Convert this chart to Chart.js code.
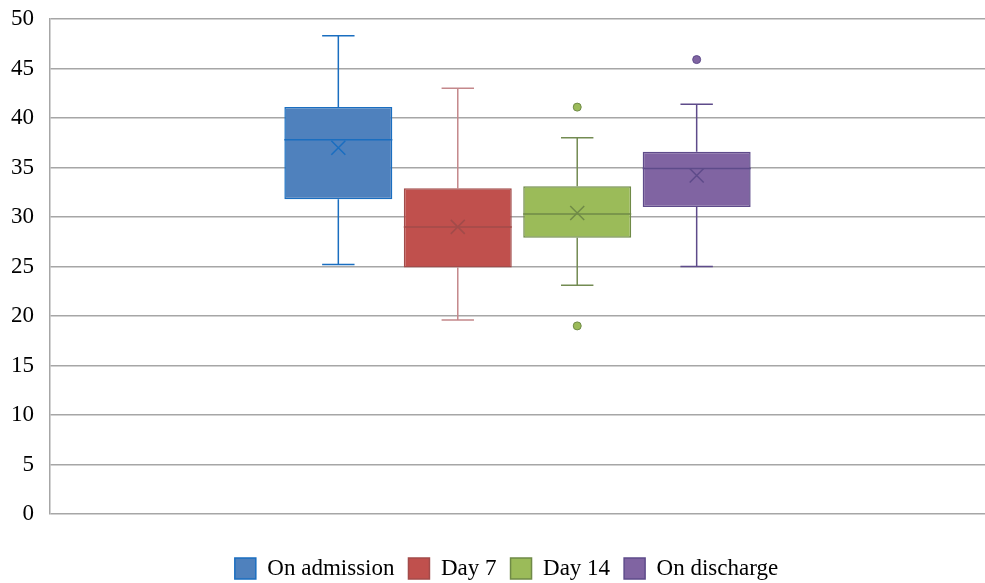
<!DOCTYPE html>
<html>
<head>
<meta charset="utf-8">
<script src="https://cdn.jsdelivr.net/npm/chart.js@4/dist/chart.umd.min.js"></script>
<style>
  html, body { margin: 0; padding: 0; background: #fff; }
  #wrap { width: 985px; height: 583px; }
</style>
</head>
<body>
<div id="wrap"><canvas id="box-chart"></canvas></div>
<script>
// values
const groups = ['On admission', 'Day 7', 'Day 14', 'On discharge'];
const minValues = [25.2, 19.6, 23.1, 25.0];
const q1Values = [31.8, 24.9, 27.9, 31.0];
const medianValues = [37.8, 29.0, 30.3, 34.9];
const q3Values = [41.1, 32.9, 33.1, 36.6];
const maxValues = [48.3, 43.0, 38.0, 41.4];
const meanValues = [37.0, 29.0, 30.4, 34.2];
const outlierValues = [[], [], [41.1, 19.0], [45.9]];
const yTicks = [0, 5, 10, 15, 20, 25, 30, 35, 40, 45, 50];

const fillColors = ['#4F81BD', '#C0504D', '#9BBB59', '#8064A2'];
const lineColors = ['#1A6EC0', '#A24B4A', '#6F8A47', '#5E4B8A'];
const whiskerColors = ['#1A6EC0', '#C4888B', '#738B52', '#5E4B8A'];

const serif = '"Liberation Serif", "Times New Roman", serif';

// whiskers under the boxes, median / mean / outliers on top
const boxParts = {
    id: 'boxParts',
    afterLayout(chart) {
        // legend row sits lower and a bit right in the original
        chart.legend.top += 29;
        chart.legend.bottom += 29;
        chart.legend.left += 14;
        chart.legend.right += 14;
    },
    beforeDatasetsDraw(chart) {
        const ctx = chart.ctx;
        const y = chart.scales.y;
        groups.forEach((g, i) => {
            const bar = chart.getDatasetMeta(i).data[0];
            const cap = bar.width * 0.3;
            ctx.save();
            ctx.strokeStyle = whiskerColors[i];
            ctx.lineWidth = 1.5;
            ctx.beginPath();
            ctx.moveTo(bar.x, y.getPixelForValue(maxValues[i]));
            ctx.lineTo(bar.x, y.getPixelForValue(q3Values[i]));
            ctx.moveTo(bar.x, y.getPixelForValue(q1Values[i]));
            ctx.lineTo(bar.x, y.getPixelForValue(minValues[i]));
            ctx.moveTo(bar.x - cap / 2, y.getPixelForValue(maxValues[i]));
            ctx.lineTo(bar.x + cap / 2, y.getPixelForValue(maxValues[i]));
            ctx.moveTo(bar.x - cap / 2, y.getPixelForValue(minValues[i]));
            ctx.lineTo(bar.x + cap / 2, y.getPixelForValue(minValues[i]));
            ctx.stroke();
            ctx.restore();
        });
    },
    afterDatasetsDraw(chart) {
        const ctx = chart.ctx;
        const y = chart.scales.y;
        groups.forEach((g, i) => {
            const bar = chart.getDatasetMeta(i).data[0];
            const half = bar.width / 2;
            ctx.save();
            ctx.strokeStyle = lineColors[i];
            ctx.lineWidth = 1.5;
            // median
            const ym = y.getPixelForValue(medianValues[i]);
            ctx.beginPath();
            ctx.moveTo(bar.x - half, ym);
            ctx.lineTo(bar.x + half, ym);
            ctx.stroke();
            // mean marker
            const ya = y.getPixelForValue(meanValues[i]);
            const s = 7;
            ctx.beginPath();
            ctx.moveTo(bar.x - s, ya - s);
            ctx.lineTo(bar.x + s, ya + s);
            ctx.moveTo(bar.x + s, ya - s);
            ctx.lineTo(bar.x - s, ya + s);
            ctx.stroke();
            // outliers
            ctx.fillStyle = fillColors[i];
            ctx.lineWidth = 1;
            outlierValues[i].forEach(v => {
                ctx.beginPath();
                ctx.arc(bar.x, y.getPixelForValue(v), 4, 0, Math.PI * 2);
                ctx.fill();
                ctx.stroke();
            });
            ctx.restore();
        });
    }
};

new Chart(document.getElementById('box-chart').getContext('2d'), {
    type: 'bar',
    data: {
        labels: [''],
        datasets: groups.map((g, i) => ({
            label: g,
            data: [[q1Values[i], q3Values[i]]],
            backgroundColor: fillColors[i],
            borderColor: lineColors[i],
            borderWidth: 1.5,
            borderSkipped: false,
            categoryPercentage: 0.511,
            barPercentage: 0.904
        }))
    },
    options: {
        responsive: true,
        maintainAspectRatio: false,
        animation: false,
        layout: { padding: { top: 19, right: 0, bottom: 22, left: 0 } },
        plugins: {
            tooltip: { enabled: false },
            legend: {
                position: 'bottom',
                labels: {
                    color: '#000',
                    boxWidth: 21,
                    boxHeight: 21,
                    padding: 14,
                    font: { family: serif, size: 23 }
                }
            }
        },
        scales: {
            x: {
                display: false
            },
            y: {
                min: 0,
                max: 50,
                afterBuildTicks: s => { s.ticks = yTicks.map(v => ({ value: v })); },
                afterFit: s => { s.width = 50; },
                border: { display: true, color: '#a6a6a6', width: 1.5 },
                grid: { color: '#a6a6a6', lineWidth: 1.5, drawTicks: true, tickLength: 16, tickColor: 'rgba(0,0,0,0)' },
                ticks: {
                    color: '#000',
                    padding: 0,
                    font: { family: serif, size: 23 }
                }
            }
        }
    },
    plugins: [boxParts]
});
</script>
</body>
</html>
